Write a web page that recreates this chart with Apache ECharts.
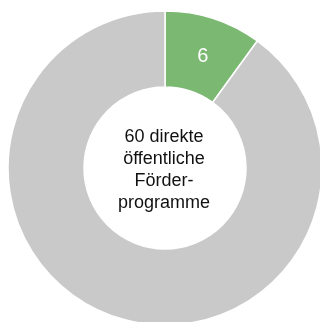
<!DOCTYPE html>
<html><head><meta charset="utf-8">
<script src="https://cdn.jsdelivr.net/npm/echarts@6/dist/echarts.min.js"></script>
<style>html,body{margin:0;padding:0;background:#fff}#c{width:320px;height:322px}</style>
</head><body><div id="c"></div>
<script>
const categories = ['direkt öffentlich', 'andere'];
const values = [6, 54];
const labels = ['6', ''];
const centerText = '60 direkte\nöffentliche\nFörder-\nprogramme';
const colors = ['#7bb872', '#c9c9c9'];

const chart = echarts.init(document.getElementById('c'), null, {renderer: 'canvas'});
chart.setOption({
  animation: false,
  graphic: [{
    type: 'text',
    x: 164, y: 170,
    style: {text: centerText, font: '18px "Liberation Sans", Arial, sans-serif',
      fill: '#111', align: 'center', verticalAlign: 'middle', lineHeight: 21.8}
  }],
  series: [{
    type: 'pie', center: [165, 168], radius: [81, 157], startAngle: 90, clockwise: true,
    avoidLabelOverlap: false,
    itemStyle: {borderColor: '#fff', borderWidth: 1.5},
    label: {show: true, position: 'inside', color: '#fff', fontSize: 20,
      fontFamily: '"Liberation Sans", Arial, sans-serif',
      offset: [0, 5],
      formatter: p => labels[p.dataIndex]},
    labelLine: {show: false},
    emphasis: {disabled: true},
    data: categories.map((c, i) => ({name: c, value: values[i], itemStyle: {color: colors[i]}}))
  }]
});
</script></body></html>
